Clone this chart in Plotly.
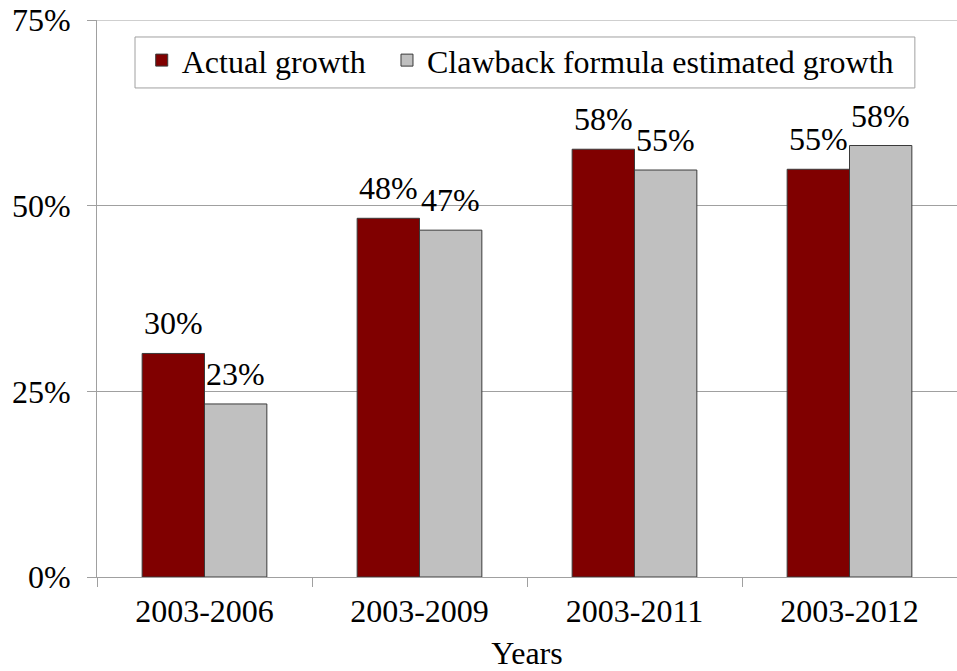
import plotly.graph_objects as go

categories = ["2003-2006", "2003-2009", "2003-2011", "2003-2012"]
actual = [0.301, 0.483, 0.576, 0.549]
clawback = [0.233, 0.467, 0.548, 0.581]
actual_labels = ["30%", "48%", "58%", "55%"]
clawback_labels = ["23%", "47%", "55%", "58%"]
y_ticks = [0, 0.25, 0.5, 0.75]

font = "'Liberation Serif', 'Times New Roman', Times, serif"
fs = 32
bargap = 0.42
plot_w = 860
bar_half = plot_w / len(categories) * (1 - bargap) / 4

fig = go.Figure()
fig.add_trace(go.Bar(
    x=categories, y=actual, name="Actual growth", legend="legend",
    marker=dict(color="#800000", line=dict(color="#3a3a3a", width=1)),
))
fig.add_trace(go.Bar(
    x=categories, y=clawback, name="Clawback formula estimated growth", legend="legend2",
    marker=dict(color="#C0C0C0", line=dict(color="#3a3a3a", width=1)),
))

for cat, v, lab in zip(categories, actual, actual_labels):
    fig.add_annotation(x=cat, y=v, text=lab, showarrow=False, xshift=-bar_half,
                       yanchor="bottom", yshift=10,
                       font=dict(family=font, size=fs, color="black"))
for cat, v, lab in zip(categories, clawback, clawback_labels):
    fig.add_annotation(x=cat, y=v, text=lab, showarrow=False, xshift=bar_half,
                       yanchor="bottom", yshift=10,
                       font=dict(family=font, size=fs, color="black"))

# legend frame
fig.add_shape(type="rect", xref="paper", yref="paper",
              x0=0.0442, x1=0.951, y0=0.878, y1=0.9695,
              line=dict(color="#a0a0a0", width=1), fillcolor="white", layer="below")

# top gridline (at the axis maximum)
fig.add_shape(type="line", xref="paper", yref="y",
              x0=0, x1=1, y0=y_ticks[-1], y1=y_ticks[-1],
              line=dict(color="#a0a0a0", width=1), layer="below")

legend_common = dict(
    orientation="h", y=0.977, xanchor="left", yanchor="top",
    borderwidth=0, bgcolor="rgba(0,0,0,0)",
    font=dict(family=font, size=fs, color="black"),
    itemwidth=30,
)

fig.update_layout(
    width=957, height=671,
    margin=dict(l=97, r=0, t=20, b=94, autoexpand=False),
    paper_bgcolor="white", plot_bgcolor="white",
    font=dict(family=font, size=fs, color="black"),
    barmode="group", bargap=bargap, bargroupgap=0,
    showlegend=True,
    legend=dict(x=0.052, **legend_common),
    legend2=dict(x=0.3372, **legend_common),
    xaxis=dict(
        showline=True, linecolor="#a0a0a0", linewidth=1,
        ticks="outside", tickson="boundaries", ticklen=9, tickcolor="#a0a0a0",
        title=dict(text="Years", font=dict(family=font, size=fs), standoff=20),
        tickfont=dict(family=font, size=fs), ticklabelstandoff=6,
        automargin=False,
    ),
    yaxis=dict(
        range=[0, 0.75], tickvals=y_ticks, tickformat=".0%",
        showline=True, linecolor="#a0a0a0", linewidth=1,
        showgrid=True, gridcolor="#a0a0a0", gridwidth=1,
        ticks="outside", ticklen=9, tickcolor="#a0a0a0",
        tickfont=dict(family=font, size=fs), ticklabelstandoff=10,
        ticklabeloverflow="allow",
        zeroline=False, automargin=False,
    ),
)

fig.write_html("out.html", config={"displayModeBar": False},
               post_script="document.body.style.margin='0';")
